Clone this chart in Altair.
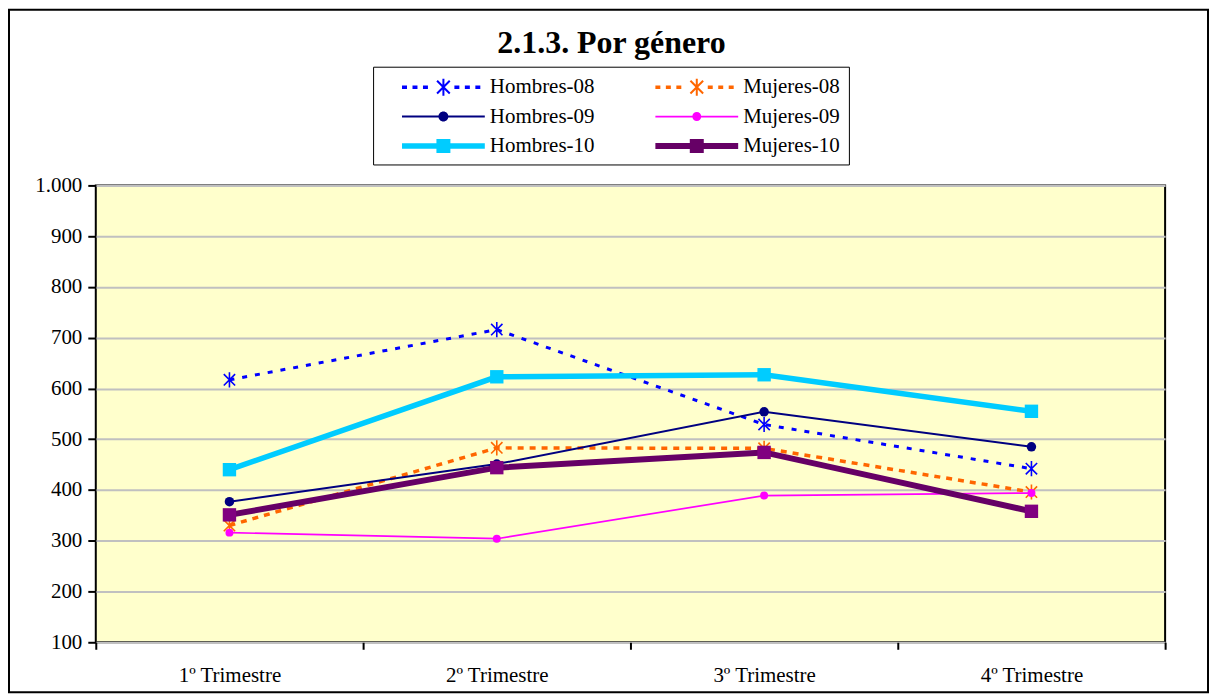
import math
import altair as alt
import pandas as pd

# ---------------- data ----------------
quarters = ["1º Trimestre", "2º Trimestre", "3º Trimestre", "4º Trimestre"]
series_names = ["Hombres-08", "Mujeres-08", "Hombres-09", "Mujeres-09", "Hombres-10", "Mujeres-10"]
hombres_08 = [617, 716, 529, 442]
mujeres_08 = [330, 483, 482, 396]
hombres_09 = [377, 451, 554, 485]
mujeres_09 = [316, 304, 389, 394]
hombres_10 = [440, 623, 627, 555]
mujeres_10 = [351, 444, 474, 358]
y_ticks = [100, 200, 300, 400, 500, 600, 700, 800, 900, 1000]

series_values = [hombres_08, mujeres_08, hombres_09, mujeres_09, hombres_10, mujeres_10]
rows = []
for name, vals in zip(series_names, series_values):
    for q, v in zip(quarters, vals):
        rows.append({"series": name, "quarter": q, "value": v})
df = pd.DataFrame(rows)

# ---------------- styles ----------------
line_colors = ["#0000FF", "#FF6600", "#000080", "#FF00FF", "#00CCFF", "#660066"]
marker_colors = ["#0000FF", "#FF6600", "#000080", "#FF00FF", "#00CCFF", "#800080"]
FONT = "Liberation Serif"

ASTERISK = "M0,-1L0,1M-0.75,-0.75L0.75,0.75M-0.75,0.75L0.75,-0.75"

styles = {
    "Hombres-08": dict(dash=[5, 8], width=3, shape=ASTERISK, filled=False, size=230, sw=1.6),
    "Mujeres-08": dict(dash=[6, 6], width=3.5, shape=ASTERISK, filled=False, size=230, sw=1.6),
    "Hombres-09": dict(dash=None, width=2, shape="circle", filled=True, size=90, sw=0),
    "Mujeres-09": dict(dash=None, width=1.7, shape="circle", filled=True, size=64, sw=0),
    "Hombres-10": dict(dash=None, width=5.5, shape="square", filled=True, size=180, sw=0),
    "Mujeres-10": dict(dash=None, width=6, shape="square", filled=True, size=180, sw=0),
}

# legend sample glyphs (custom symbol paths, unit = S px)
S = 12.0
HALF = 41.5


def _p(x, y):
    return f"{x / S:.4f},{y / S:.4f}"


def rect(x0, y0, x1, y1):
    return f"M{_p(x0, y0)}L{_p(x1, y0)}L{_p(x1, y1)}L{_p(x0, y1)}Z"


def rot_rect(length, width, ang):
    a = math.radians(ang)
    pts = []
    for u, v in [(-length / 2, -width / 2), (length / 2, -width / 2), (length / 2, width / 2), (-length / 2, width / 2)]:
        pts.append((u * math.cos(a) - v * math.sin(a), u * math.sin(a) + v * math.cos(a)))
    return "M" + "L".join(_p(x, y) for x, y in pts) + "Z"


def circle(r):
    return f"M{_p(r, 0)}A{r / S:.4f},{r / S:.4f} 0 1,1 {_p(-r, 0)}A{r / S:.4f},{r / S:.4f} 0 1,1 {_p(r, 0)}Z"


def asterisk_glyph():
    return rot_rect(17, 2, 90) + rot_rect(18, 2, 45) + rot_rect(18, 2, -45)


def dashed(th, dash, period, gap_half):
    out = ""
    x = -HALF
    while x + dash <= HALF + 0.01:
        if x + dash < -gap_half or x > gap_half:
            out += rect(x, -th / 2, x + dash, th / 2)
        x += period
    return out


glyphs = {
    "Hombres-08": dashed(3.5, 5, 10.5, 9) + asterisk_glyph(),
    "Mujeres-08": dashed(3.5, 5, 10.5, 9) + asterisk_glyph(),
    "Hombres-09": rect(-HALF, -1, HALF, 1) + circle(5),
    "Mujeres-09": rect(-HALF, -0.9, HALF, 0.9) + circle(4.5),
    "Hombres-10": rect(-HALF, -2.8, HALF, 2.8) + rect(-7, -7, 7, 7),
    "Mujeres-10": rect(-HALF, -3, HALF, 3) + rect(-7, -7, 7, 7),
}
color_of = dict(zip(series_names, line_colors))
# legend entries fill column by column: Hombres in column 1, Mujeres in column 2
legend_order = series_names[0::2] + series_names[1::2]
legend_colors = [color_of[n] for n in legend_order]
legend_paths = [glyphs[n] for n in legend_order]

x_enc = alt.X(
    "quarter:N",
    sort=quarters,
    scale=alt.Scale(type="band", domain=quarters, paddingInner=0, paddingOuter=0),
    axis=alt.Axis(title=None, labelAngle=0, tickBand="extent"),
)
y_enc = alt.Y(
    "value:Q",
    scale=alt.Scale(domain=[100, 1000], nice=False, zero=False),
    axis=alt.Axis(
        title=None,
        values=y_ticks,
        labelExpr="replace(format(datum.value, ','), ',', '.')",
    ),
)
line_color = alt.Color("series:N", scale=alt.Scale(domain=series_names, range=line_colors), legend=None)

layers = []

# outer chart frame (decoration)
frame = alt.Chart(alt.Data(values=[{"k": 0}])).mark_rect(
    fillOpacity=0, stroke="black", strokeWidth=2
).encode(x=alt.value(-87), x2=alt.value(1115), y=alt.value(-176), y2=alt.value(508))
layers.append(frame)

for name, mcol in zip(series_names, marker_colors):
    st = styles[name]
    base = alt.Chart(df).transform_filter(alt.datum.series == name)
    line_kwargs = dict(strokeWidth=st["width"], strokeCap="butt")
    if st["dash"]:
        line_kwargs["strokeDash"] = st["dash"]
    ln = base.mark_line(**line_kwargs).encode(x=x_enc, y=y_enc, color=line_color)
    pt_kwargs = dict(shape=st["shape"], filled=st["filled"], size=st["size"], opacity=1)
    if st["filled"]:
        pt_kwargs["color"] = mcol
    else:
        pt_kwargs["stroke"] = mcol
        pt_kwargs["strokeWidth"] = st["sw"]
    pt = base.mark_point(**pt_kwargs).encode(x=x_enc, y=y_enc)
    layers += [ln, pt]

legend_def = alt.Legend(
    title=None,
    orient="none",
    legendX=278,
    legendY=-119,
    columns=2,
    gridAlign="all",
    padding=8.5,
    fillColor="white",
    strokeColor="black",
    symbolSize=576,
    symbolOffset=50,
    labelOffset=34.5,
    rowPadding=7.5,
    columnPadding=40,
    labelFont=FONT,
    labelFontSize=21,
    labelColor="black",
    labelLimit=300,
    symbolStrokeWidth=0,
    symbolOpacity=1,
)

legend_layer = alt.Chart(df).mark_point(filled=True, opacity=0).encode(
    x=x_enc,
    y=y_enc,
    fill=alt.Fill("series:N", scale=alt.Scale(domain=legend_order, range=legend_colors), legend=legend_def),
    shape=alt.Shape("series:N", scale=alt.Scale(domain=legend_order, range=legend_paths), legend=legend_def),
)
layers.append(legend_layer)

chart = (
    alt.layer(*layers)
    .properties(
        width=1072,
        height=458,
        autosize=alt.AutoSizeParams(type="none"),
        padding={"left": 88, "top": 177, "right": 46, "bottom": 51},
        title=alt.TitleParams(text="2.1.3. Por género", dx=-19, offset=0, dy=76, baseline="alphabetic"),
    )
    .configure_view(fill="#FFFFCC", stroke="black", strokeWidth=2)
    .configure_axis(
        labelFont=FONT, labelFontSize=21, labelColor="black",
        tickColor="black", tickWidth=2, domain=False,
    )
    .configure_axisY(gridColor="#C0C0C0", gridWidth=2, tickSize=8, labelPadding=6)
    .configure_axisX(grid=False, tickSize=7, labelPadding=15)
    .configure_title(font=FONT, fontSize=32, fontWeight="bold", color="black", anchor="middle")
)

chart.save("out.html", embed_options={"renderer": "svg", "actions": False})
